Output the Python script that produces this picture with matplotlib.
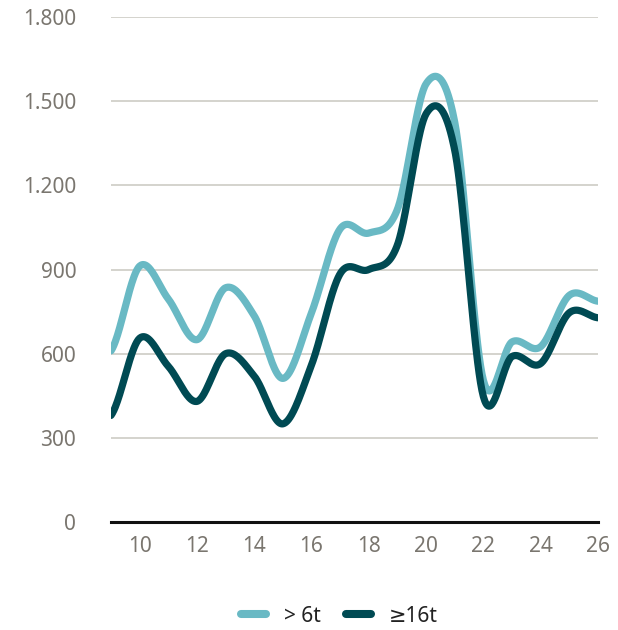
import numpy as np
import matplotlib
matplotlib.use("Agg")
import matplotlib.pyplot as plt
from matplotlib.ticker import FuncFormatter
from matplotlib.lines import Line2D

plt.rcParams['font.family'] = ['Noto Sans', 'DejaVu Sans']

# weekly values
weeks = [9, 10, 11, 12, 13, 14, 15, 16, 17, 18, 19, 20, 21, 22, 23, 24, 25, 26]
over_6t = [610, 912, 795, 650, 835, 735, 512, 746, 1045, 1030, 1115, 1562, 1425, 505, 642, 625, 808, 787]
over_16t = [380, 655, 555, 430, 600, 520, 350, 560, 885, 900, 988, 1455, 1325, 447, 590, 565, 746, 728]

series_names = ["> 6t", "\u226516t"]
colors = ["#69b9c4", "#004a53"]
y_ticks = [0, 300, 600, 900, 1200, 1500, 1800]
x_ticks = [10, 12, 14, 16, 18, 20, 22, 24, 26]


def smooth(x, y, n=40):
    # cardinal (Catmull-Rom) spline through the points
    x = np.asarray(x, float)
    y = np.asarray(y, float)
    m = np.empty_like(y)
    m[1:-1] = (y[2:] - y[:-2]) / (x[2:] - x[:-2])
    m[0] = (y[1] - y[0]) / (x[1] - x[0]) / 2
    m[-1] = (y[-1] - y[-2]) / (x[-1] - x[-2]) / 2
    xs, ys = [], []
    for i in range(len(x) - 1):
        h = x[i + 1] - x[i]
        t = np.linspace(0, 1, n, endpoint=False)
        h00 = 2 * t**3 - 3 * t**2 + 1
        h10 = t**3 - 2 * t**2 + t
        h01 = -2 * t**3 + 3 * t**2
        h11 = t**3 - t**2
        xs.append(x[i] + t * h)
        ys.append(h00 * y[i] + h10 * h * m[i] + h01 * y[i + 1] + h11 * h * m[i + 1])
    xs.append([x[-1]])
    ys.append([y[-1]])
    return np.concatenate(xs), np.concatenate(ys)


fig = plt.figure(figsize=(6.18, 6.30), dpi=100)
ax = fig.add_axes([0.1796, 0.1714, 0.788, 0.8016])

for vals, col in zip([over_6t, over_16t], colors):
    sx, sy = smooth(weeks, vals)
    ax.plot(sx, sy, color=col, lw=5.2, solid_capstyle='round', solid_joinstyle='round', zorder=3)

ax.set_xlim(9, 26)
ax.set_ylim(0, 1800)
ax.set_yticks(y_ticks)
ax.set_xticks(x_ticks)
ax.yaxis.set_major_formatter(FuncFormatter(lambda v, p: f"{int(v):,}".replace(",", ".")))
ax.grid(axis='y', color='#c9c7c0', lw=1.1)
ax.set_axisbelow(True)
for s in ['top', 'right', 'left']:
    ax.spines[s].set_visible(False)
ax.spines['bottom'].set_color('#111111')
ax.spines['bottom'].set_linewidth(2.2)
ax.spines['bottom'].set_zorder(4)
ax.tick_params(axis='both', length=0, labelsize=15, labelcolor='#7a766f')
ax.tick_params(axis='y', pad=25)
ax.tick_params(axis='x', pad=10)

handles = [Line2D([0], [0], color=c, lw=5.8, solid_capstyle='round') for c in colors]
fig.legend(handles, series_names, loc='center', bbox_to_anchor=(0.549, 0.022), ncol=2,
           frameon=False, fontsize=15, handlelength=1.2, handletextpad=0.85, columnspacing=1.2,
           labelcolor='#222222')

fig.savefig("out.png", dpi=100)
